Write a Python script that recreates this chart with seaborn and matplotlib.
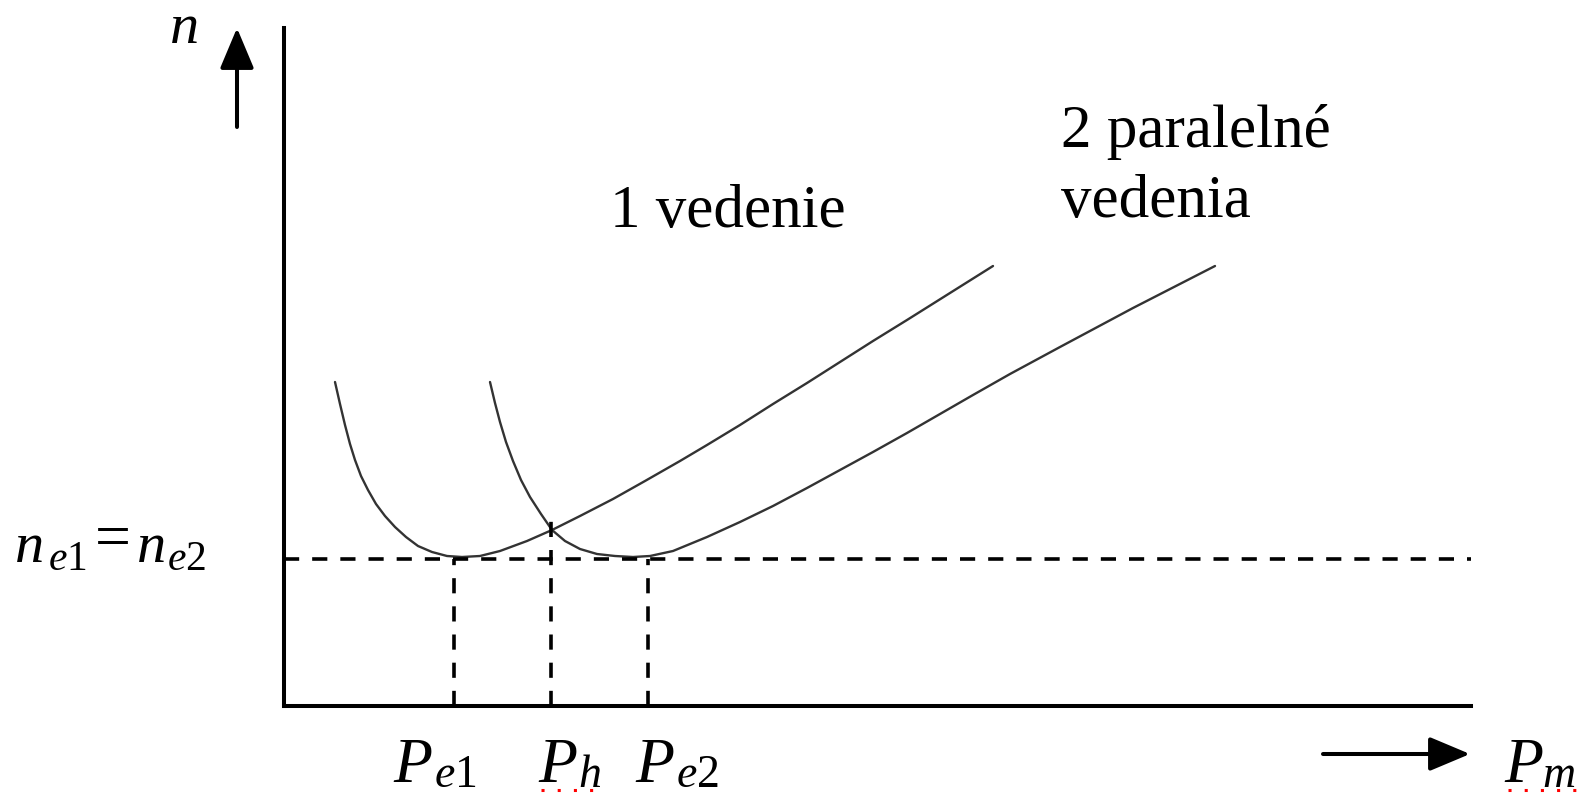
import matplotlib
matplotlib.use("Agg")
import matplotlib.pyplot as plt
import seaborn as sns
import pandas as pd
from matplotlib.lines import Line2D
from matplotlib.patches import FancyArrowPatch

# ---------------- data (arbitrary units: P along x, n along y) ----------------
# curve "1 vedenie"
P_1 = [51, 56, 61, 66, 71, 77, 84, 92, 101, 111, 122, 134, 148, 163, 178, 196, 216,
       243, 268, 296, 329, 361, 396, 423, 456, 489, 523, 556, 589, 623, 666, 709]
n_1 = [324, 302, 281, 262, 246, 230, 216, 202, 190, 179, 169, 160, 154, 150, 149, 150, 155,
       165, 176, 190, 207, 225, 245, 261, 281, 302, 323, 344, 365, 386, 413, 440]
# curve "2 paralelné vedenia"
P_2 = [206, 211, 216, 222, 229, 237, 246, 257, 268, 281, 296, 313, 331, 349, 366, 389,
       423, 456, 489, 523, 556, 589, 623, 656, 689, 726, 776, 849, 931]
n_2 = [324, 303, 284, 264, 245, 226, 209, 192, 176, 165, 157, 152, 150, 149, 150, 155,
       169, 184, 200, 218, 236, 254, 273, 292, 311, 332, 359, 398, 440]

n_e = 147            # n_e1 = n_e2
P_e1, P_h, P_e2 = 170, 267, 364
n_h = 194            # top of the P_h marker line
P_max, n_max = 1187, 678

label_1 = "1 vedenie"
label_2a = "2 paralelné"
label_2b = "vedenia"

# ---------------- style ----------------
sns.set_style("white")
plt.rcParams["font.family"] = ["Liberation Serif", "DejaVu Serif"]
plt.rcParams["mathtext.fontset"] = "custom"
plt.rcParams["mathtext.rm"] = "Liberation Serif"
plt.rcParams["mathtext.it"] = "Liberation Serif:italic"
plt.rcParams["mathtext.bf"] = "Liberation Serif:bold"
plt.rcParams["text.color"] = "black"

W, H = 1580, 794
fig = plt.figure(figsize=(W / 100, H / 100), dpi=100)
fig.patch.set_facecolor("white")
ax = fig.add_axes([284 / W, 1 - 706 / H, (1471 - 284) / W, (706 - 28) / H])
ax.set_facecolor("none")

curve_col = "#333333"
df1 = pd.DataFrame({"P": P_1, "n": n_1})
df2 = pd.DataFrame({"P": P_2, "n": n_2})
sns.lineplot(data=df1, x="P", y="n", ax=ax, color=curve_col, lw=1.7,
             estimator=None, sort=False, solid_joinstyle="round")
sns.lineplot(data=df2, x="P", y="n", ax=ax, color=curve_col, lw=1.7,
             estimator=None, sort=False, solid_joinstyle="round")

dash = (0, (4.2, 3.6))
ax.axhline(n_e, color="black", lw=2.6, ls=dash)
ax.vlines([P_e1, P_e2], 0, n_e, colors="black", lw=2.6, linestyles=[dash])
ax.vlines([P_h], 0, n_h, colors="black", lw=2.6, linestyles=[dash])

ax.set_xlim(0, P_max)
ax.set_ylim(0, n_max)
ax.set_xticks([])
ax.set_yticks([])
ax.set_xlabel("")
ax.set_ylabel("")
for s in ("top", "right"):
    ax.spines[s].set_visible(False)
for s in ("left", "bottom"):
    ax.spines[s].set_visible(True)
    ax.spines[s].set_linewidth(2.9)
    ax.spines[s].set_color("black")


def fp(x, y):
    return x / W, 1 - y / H


def put(x, y, s, size, italic=False):
    fig.text(*fp(x, y), s, fontsize=size, ha="left", va="baseline",
             fontstyle="italic" if italic else "normal", color="black")


# ---------------- texts ----------------
put(170, 43, "n", 42, italic=True)

# n_e1 = n_e2
put(15, 562, "n", 42, italic=True)
put(48, 570, r"$e1$", 30)
put(95, 557, "=", 46)
put(137, 562, "n", 42, italic=True)
put(167, 570, r"$e2$", 30)

# P labels
put(393, 782, "P", 46, italic=True)
put(434, 787, r"$e1$", 33)
put(538, 782, "P", 46, italic=True)
put(578, 787, r"$h$", 33)
put(635, 782, "P", 46, italic=True)
put(676, 787, r"$e2$", 33)
put(1504, 782, "P", 46, italic=True)
put(1542, 787, r"$m$", 33)

put(610, 227, label_1, 44)
put(1061, 147, label_2a, 44)
put(1061, 217, label_2b, 44)

# ---------------- arrows ----------------
astyle = "-|>,head_length=25,head_width=10.5"
fig.add_artist(FancyArrowPatch(
    posA=(237, H - 127), posB=(237, H - 28), transform=None,
    arrowstyle=astyle, mutation_scale=1, lw=2.9, color="black",
    shrinkA=0, shrinkB=0))
fig.add_artist(FancyArrowPatch(
    posA=(1323, H - 754), posB=(1470, H - 754), transform=None,
    arrowstyle=astyle, mutation_scale=1, lw=2.9, color="black",
    shrinkA=0, shrinkB=0))

# red dotted spell-check marks under P_h and P_m
for x0, x1 in ((541, 593), (1508, 1578)):
    fig.add_artist(Line2D([x0, x1], [H - 790, H - 790], transform=None,
                          color="red", lw=2.2, ls=(0, (1, 4.3)),
                          solid_capstyle="butt", dash_capstyle="butt"))

fig.savefig("out.png", dpi=100, facecolor="white")
